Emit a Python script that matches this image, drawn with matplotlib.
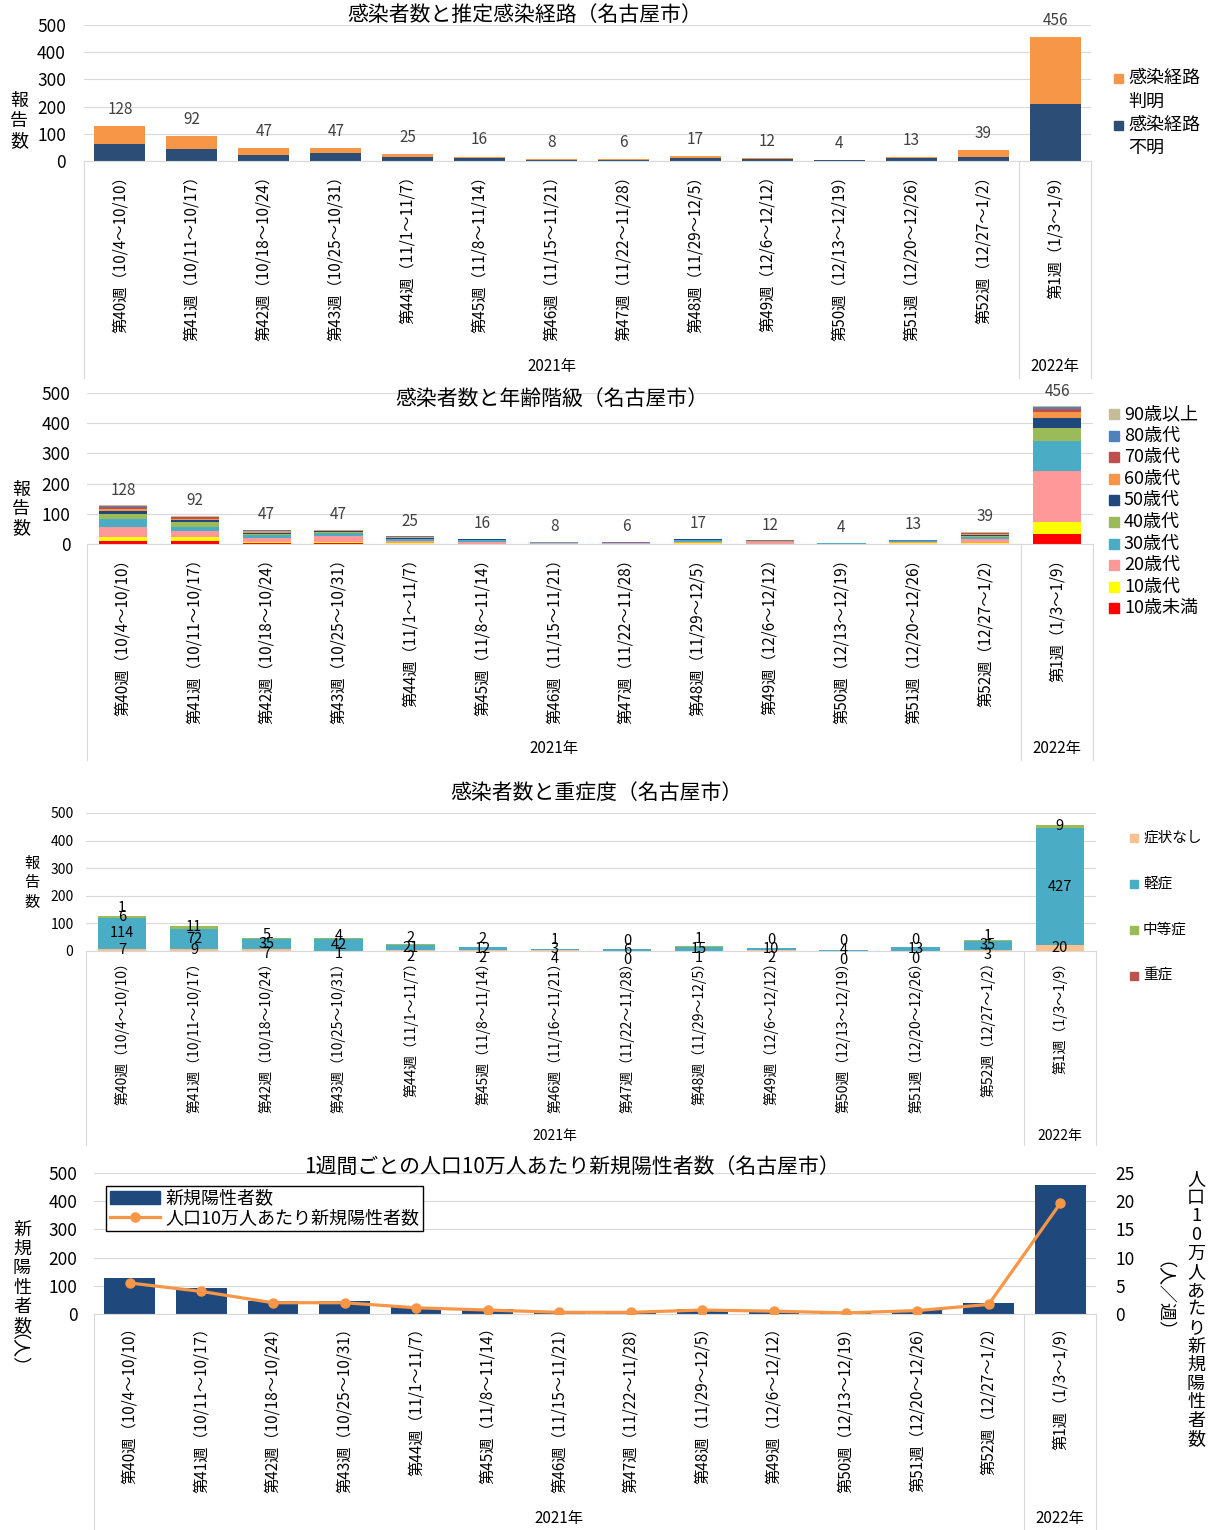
import matplotlib.pyplot as plt
from matplotlib.lines import Line2D
from matplotlib.patches import Patch, Rectangle

plt.rcParams['font.family'] = ['Noto Sans CJK JP', 'DejaVu Sans']

# Weekly categories
weeks = ['第40週（10/4～10/10）', '第41週（10/11～10/17）', '第42週（10/18～10/24）',
         '第43週（10/25～10/31）', '第44週（11/1～11/7）', '第45週（11/8～11/14）',
         '第46週（11/15～11/21）', '第47週（11/22～11/28）', '第48週（11/29～12/5）',
         '第49週（12/6～12/12）', '第50週（12/13～12/19）', '第51週（12/20～12/26）',
         '第52週（12/27～1/2）', '第1週（1/3～1/9）']
weeks_severity = ['第40週（10/4～10/10）', '第41週（10/11～10/17）', '第42週（10/18～10/24）',
                  '第43週（10/25～10/31）', '第44週（11/1～11/7）', '第45週（11/8～11/14）',
                  '第46週（11/16～11/21）', '第47週（11/22～11/28）', '第48週（11/29～12/5）',
                  '第49週（12/6～12/12）', '第50週（12/13～12/19）', '第51週（12/20～12/26）',
                  '第52週（12/27～1/2）', '第1週（1/3～1/9）']

totals = [128, 92, 47, 47, 25, 16, 8, 6, 17, 12, 4, 13, 39, 456]

# Infection route
route_unknown = [62, 43, 22, 28, 16, 12, 3, 5, 10, 8, 2, 10, 16, 210]
route_known = [66, 49, 25, 19, 9, 4, 5, 1, 7, 4, 2, 3, 23, 246]

# Age groups
age_under10 = [9, 11, 3, 2, 1, 0, 0, 0, 1, 0, 0, 1, 1, 33]
age_10s = [13, 11, 4, 5, 2, 1, 1, 0, 1, 1, 0, 1, 3, 41]
age_20s = [33, 20, 14, 20, 7, 5, 3, 2, 5, 4, 1, 5, 12, 168]
age_30s = [29, 15, 8, 10, 5, 7, 1, 1, 5, 1, 2, 2, 6, 100]
age_40s = [14, 16, 5, 3, 2, 1, 0, 0, 1, 1, 0, 1, 5, 41]
age_50s = [12, 6, 4, 3, 2, 1, 0, 1, 2, 0, 0, 1, 4, 34]
age_60s = [7, 5, 4, 2, 3, 0, 1, 0, 0, 2, 0, 0, 3, 20]
age_70s = [5, 4, 2, 1, 2, 0, 2, 0, 0, 2, 0, 0, 2, 10]
age_80s = [4, 3, 2, 1, 1, 1, 0, 1, 2, 1, 0, 2, 2, 8]
age_90plus = [2, 1, 1, 0, 0, 0, 0, 1, 0, 0, 1, 0, 1, 1]

# Severity
sev_none = [7, 9, 7, 1, 2, 2, 4, 0, 1, 2, 0, 0, 3, 20]
sev_mild = [114, 72, 35, 42, 21, 12, 3, 6, 15, 10, 4, 13, 35, 427]
sev_moderate = [6, 11, 5, 4, 2, 2, 1, 0, 1, 0, 0, 0, 1, 9]
sev_severe = [1, 0, 0, 0, 0, 0, 0, 0, 0, 0, 0, 0, 0, 0]

# New positives per 100k population
per_100k = [5.5, 4.0, 2.0, 2.0, 1.1, 0.7, 0.3, 0.3, 0.7, 0.5, 0.2, 0.6, 1.7, 19.6]

W, H = 1213, 1530
fig = plt.figure(figsize=(W / 100, H / 100), dpi=100)
GRID = '#D9D9D9'
x = list(range(len(weeks)))


def add_ax(left, top, right, bottom):
    return fig.add_axes([left / W, 1 - bottom / H, (right - left) / W, (bottom - top) / H])


def style_ax(ax, ysize, ypad, xsize, xpad, labels):
    ax.set_xlim(-0.5, 13.5)
    ax.set_ylim(0, 500)
    ax.set_yticks(range(0, 501, 100))
    ax.grid(axis='y', color=GRID, lw=0.8)
    ax.set_axisbelow(True)
    for s in ['top', 'right', 'left']:
        ax.spines[s].set_visible(False)
    ax.spines['bottom'].set_color(GRID)
    ax.tick_params(axis='y', length=0, pad=ypad, labelsize=ysize)
    ax.set_xticks(x)
    ax.set_xticklabels(labels, rotation=90, va='top', ha='center', fontsize=xsize)
    ax.tick_params(axis='x', length=0, pad=xpad)


def category_box(ax, top, bottom, cat_bottom, year_y, year_size):
    h = bottom - top
    depth = (cat_bottom - bottom) / h
    for xv in [-0.5, 12.5, 13.5]:
        ax.plot([xv, xv], [0, -depth], transform=ax.get_xaxis_transform(),
                color=GRID, lw=0.8, clip_on=False)
    yf = -(year_y - bottom) / h
    ax.text(6, yf, '2021年', transform=ax.get_xaxis_transform(),
            ha='center', va='center', fontsize=year_size)
    ax.text(13, yf, '2022年', transform=ax.get_xaxis_transform(),
            ha='center', va='center', fontsize=year_size)


def ftext(px, py, s, **kw):
    fig.text(px / W, 1 - py / H, s, **kw)


def vstack(px, py, chars, step, size):
    for k, c in enumerate(chars):
        ftext(px, py + k * step, c, ha='center', va='center', fontsize=size)


def legend_item(sx, y, size, color, tx, label, fsize):
    fig.add_artist(Rectangle(((sx - size / 2) / W, 1 - (y + size / 2) / H), size / W, size / H,
                             transform=fig.transFigure, color=color))
    ftext(tx, y, label, ha='left', va='center', fontsize=fsize)


# Panel 1: infection route
ax1 = add_ax(84, 25, 1091, 161)
style_ax(ax1, 12.5, 13, 11, 5, weeks)
ax1.bar(x, route_unknown, width=0.71, color='#2C4D75')
ax1.bar(x, route_known, width=0.71, bottom=route_unknown, color='#F79646')
for i, t in enumerate(totals):
    ax1.annotate(str(t), (i, t), xytext=(0, 12), textcoords='offset points',
                 ha='center', va='center', fontsize=11, color='#404040')
category_box(ax1, 25, 161, 378, 366, 11)
ftext(525, 15, '感染者数と推定感染経路（名古屋市）', ha='center', va='center', fontsize=15)
vstack(19, 101, '報告数', 20, 13)
legend_item(1118, 78, 9, '#F79646', 1128, '感染経路', 13)
ftext(1128, 102, '判明', ha='left', va='center', fontsize=13)
legend_item(1118, 125, 9, '#2C4D75', 1128, '感染経路', 13)
ftext(1128, 148, '不明', ha='left', va='center', fontsize=13)

# Panel 2: age groups
ax2 = add_ax(87, 393, 1093, 544)
style_ax(ax2, 12.5, 12, 11, 5, weeks)
age_series = [
    ('10歳未満', age_under10, '#FF0000'),
    ('10歳代', age_10s, '#FFFF00'),
    ('20歳代', age_20s, '#FF9999'),
    ('30歳代', age_30s, '#4BACC6'),
    ('40歳代', age_40s, '#9BBB59'),
    ('50歳代', age_50s, '#1F497D'),
    ('60歳代', age_60s, '#F79646'),
    ('70歳代', age_70s, '#C0504D'),
    ('80歳代', age_80s, '#4F81BD'),
    ('90歳以上', age_90plus, '#C4BD97'),
]
bottom = [0] * len(x)
for name, vals, col in age_series:
    ax2.bar(x, vals, width=0.67, bottom=bottom, color=col)
    bottom = [b + v for b, v in zip(bottom, vals)]
for i, t in enumerate(totals):
    ax2.annotate(str(t), (i, t), xytext=(0, 11), textcoords='offset points',
                 ha='center', va='center', fontsize=11, color='#404040')
category_box(ax2, 393, 544, 760, 749, 11)
ftext(552, 399, '感染者数と年齢階級（名古屋市）', ha='center', va='center', fontsize=15)
vstack(21, 490, '報告数', 19, 13)
for k, (name, vals, col) in enumerate(reversed(age_series)):
    legend_item(1114, 414 + k * 21.6, 10, col, 1124, name, 13)

# Panel 3: severity
ax3 = add_ax(86, 813, 1096, 951)
style_ax(ax3, 10, 9, 10, 3, weeks_severity)
sev_series = [
    ('症状なし', sev_none, '#FAC090'),
    ('軽症', sev_mild, '#4BACC6'),
    ('中等症', sev_moderate, '#9BBB59'),
    ('重症', sev_severe, '#C0504D'),
]
bottom = [0] * len(x)
centers = []
for name, vals, col in sev_series:
    ax3.bar(x, vals, width=0.67, bottom=bottom, color=col)
    centers.append([b + v / 2 for b, v in zip(bottom, vals)])
    bottom = [b + v for b, v in zip(bottom, vals)]

# segment labels: keep the 軽症 label centred, push neighbours apart
gap = 34
for i in x:
    pos = [c[i] for c in centers]
    pos[0] = min(pos[0], pos[1] - gap)
    pos[2] = max(pos[2], pos[1] + gap)
    pos[3] = max(pos[3], pos[2] + gap * 0.9)
    for k, (name, vals, col) in enumerate(sev_series):
        if name == '重症' and vals[i] == 0:
            continue
        ax3.text(i, pos[k], str(vals[i]), ha='center', va='center',
                 fontsize=10.5, clip_on=False)
category_box(ax3, 813, 951, 1145, 1136, 10)
ftext(596, 793, '感染者数と重症度（名古屋市）', ha='center', va='center', fontsize=15)
vstack(32, 863, '報告数', 20, 11)
for k, (name, vals, col) in enumerate(sev_series):
    legend_item(1134, 838 + k * 46, 8, col, 1143, name, 10.5)

# Panel 4: new positives and rate per 100k
ax4 = add_ax(94, 1173, 1096, 1314)
style_ax(ax4, 12.5, 12, 11, 4, weeks)
ax4.bar(x, totals, width=0.71, color='#1F497D')
ax4r = ax4.twinx()
ax4r.set_ylim(0, 25)
ax4r.set_yticks(range(0, 26, 5))
for s in ['top', 'right', 'left', 'bottom']:
    ax4r.spines[s].set_visible(False)
ax4r.tick_params(axis='y', length=0, pad=14, labelsize=12.5)
ax4r.plot(x, per_100k, color='#F79646', lw=2.3, marker='o', markersize=6.5)
category_box(ax4, 1173, 1314, 1530, 1519, 11)
handles = [Patch(color='#1F497D'),
           Line2D([], [], color='#F79646', lw=2.3, marker='o', markersize=6.5)]
leg = ax4r.legend(handles, ['新規陽性者数', '人口10万人あたり新規陽性者数'],
                  loc='upper left', bbox_to_anchor=(0.012, 0.908), borderaxespad=0,
                  fontsize=13, frameon=True, fancybox=False, framealpha=1,
                  edgecolor='black', handlelength=2.8, handletextpad=0.3,
                  labelspacing=0.1, borderpad=0.2)
leg.get_frame().set_linewidth(1.0)
ftext(572, 1167, '1週間ごとの人口10万人あたり新規陽性者数（名古屋市）',
      ha='center', va='center', fontsize=15)
vstack(22, 1230, '新規陽性者数', 19.2, 13)
ftext(7, 1360, '（人）', ha='center', va='center', fontsize=13, rotation=-90,
      rotation_mode='anchor')
vstack(1196, 1179, '人口10万人あたり新規陽性者数', 18.6, 13)
ftext(1153, 1306, '（人／週）', ha='center', va='center', fontsize=13, rotation=-90,
      rotation_mode='anchor')

fig.savefig('out.png', dpi=100)
